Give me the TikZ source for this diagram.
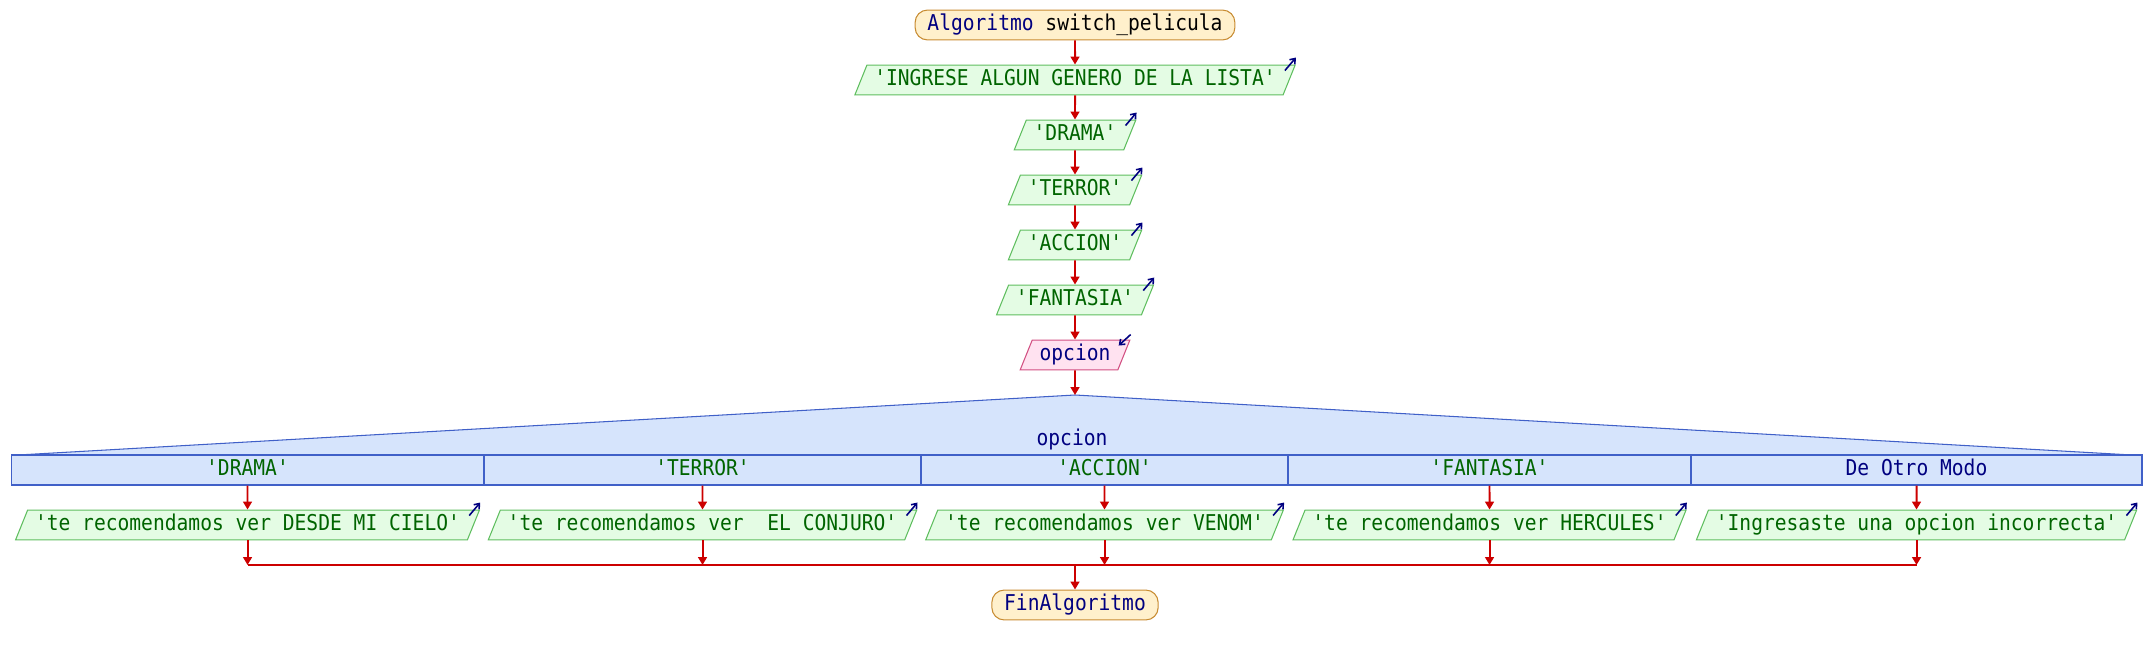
\documentclass[tikz,border=0pt]{standalone}
\usepackage{fontspec}
\setmonofont[FakeStretch=0.9]{DejaVu Sans Mono}
\usetikzlibrary{arrows.meta,calc,positioning,shapes.geometric}
\definecolor{termfill}{RGB}{255,240,204}
\definecolor{termdraw}{RGB}{200,140,50}
\definecolor{iofill}{RGB}{228,252,228}
\definecolor{iodraw}{RGB}{95,190,95}
\definecolor{infill}{RGB}{255,226,240}
\definecolor{indraw}{RGB}{210,80,130}
\definecolor{swfill}{RGB}{214,228,252}
\definecolor{swdraw}{RGB}{64,96,200}
\definecolor{txtgreen}{RGB}{0,100,0}
\definecolor{navy}{RGB}{0,0,128}
\definecolor{flowred}{RGB}{204,0,0}

\begin{document}
\begin{tikzpicture}[
    x=0.02cm, y=-0.02cm,
    font=\ttfamily\fontsize{12.4}{14}\selectfont,
    every node/.style={text height=8.5pt, text depth=2.5pt},
    term/.style={rectangle, rounded corners=7pt, draw=termdraw, fill=termfill,
        line width=0.6pt, inner xsep=7pt, inner ysep=3pt, text=navy},
    iobox/.style={trapezium, trapezium left angle=68, trapezium right angle=112,
        draw=iodraw, fill=iofill, line width=0.6pt, inner xsep=4.2pt,
        inner ysep=3pt, text=txtgreen},
    inbox/.style={iobox, draw=indraw, fill=infill, text=navy},
    casecell/.style={rectangle, draw=swdraw, fill=swfill, line width=0.6pt,
        minimum height=0.6cm, inner sep=0pt, text=txtgreen},
    flow/.style={-{Triangle[length=4.5pt,width=5pt]}, line width=1.1pt, flowred},
    joinline/.style={line width=1.1pt, flowred},
    icono/.style={-{Straight Barb[length=2.6pt,width=4pt]}, line width=0.9pt, navy}
]
\useasboundingbox (0,0) rectangle (2150,655);

% cabecera y entradas
\node[term] (inicio) at (1075,25) {Algoritmo \textcolor{black}{switch\_pelicula}};
\node[iobox] (msg) at (1075,80) {'INGRESE ALGUN GENERO DE LA LISTA'};
\node[iobox] (drama) at (1075,135) {'DRAMA'};
\node[iobox] (terror) at (1075,190) {'TERROR'};
\node[iobox] (accion) at (1075,245) {'ACCION'};
\node[iobox] (fantasia) at (1075,300) {'FANTASIA'};
\node[inbox] (leer) at (1075,355) {opcion};

\draw[flow] (inicio) -- (msg);
\draw[flow] (msg) -- (drama);
\draw[flow] (drama) -- (terror);
\draw[flow] (terror) -- (accion);
\draw[flow] (accion) -- (fantasia);
\draw[flow] (fantasia) -- (leer);

\foreach \n in {msg,drama,terror,accion,fantasia}
    \draw[icono] ($(\n.top right corner)+(-11,6)$) -- ++(11,-13);
\draw[icono] ($(leer.top right corner)+(0,-5)$) -- ++(-12,11);

% segun
\coordinate (peak) at (1075,395);
\fill[swfill] (18,455) -- (peak) -- (2132,455) -- cycle;
\draw[swdraw, line width=0.6pt] (18,455) -- (peak) -- (2132,455);
\draw[flow] (leer) -- (peak);
\node[text=navy] (sw) at (1072,440) {opcion};

\node[casecell, minimum width=9.46cm] (c1) at (247.5,470) {'DRAMA'};
\node[casecell, minimum width=8.74cm] (c2) at (702.5,470) {'TERROR'};
\node[casecell, minimum width=7.34cm] (c3) at (1104.5,470) {'ACCION'};
\node[casecell, minimum width=8.06cm] (c4) at (1489.5,470) {'FANTASIA'};
\node[casecell, minimum width=9.02cm, text=navy] (c5) at (1916.5,470) {De Otro Modo};

\node[iobox] (o1) at (247.5,525) {'te recomendamos ver DESDE MI CIELO'};
\node[iobox] (o2) at (702.5,525) {'te recomendamos ver \ EL CONJURO'};
\node[iobox] (o3) at (1104.5,525) {'te recomendamos ver VENOM'};
\node[iobox] (o4) at (1489.5,525) {'te recomendamos ver HERCULES'};
\node[iobox] (o5) at (1916.5,525) {'Ingresaste una opcion incorrecta'};

% unir ramas
\coordinate (join) at (1075,565);
\node[term] (fin) at (1075,605) {FinAlgoritmo};

\foreach \i in {1,...,5} {
    \draw[flow] (c\i) -- (o\i);
    \draw[icono] ($(o\i.top right corner)+(-11,6)$) -- ++(11,-13);
    \draw[flow] (o\i.south) -- (o\i.south |- join);
}
\draw[joinline] (o1.south |- join) -- (o5.south |- join);
\draw[flow] (join) -- (fin);
\end{tikzpicture}
\end{document}
